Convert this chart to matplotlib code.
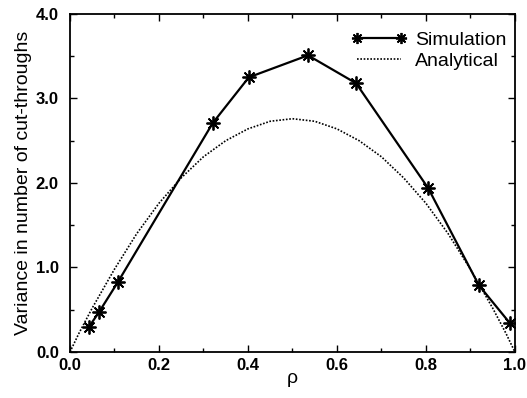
import matplotlib
matplotlib.use('Agg')
import matplotlib.pyplot as plt
from matplotlib.ticker import MultipleLocator, FormatStrFormatter

plt.rcParams['font.family'] = ['Liberation Sans', 'DejaVu Sans']

# Simulation points
sim_rho = [0.043, 0.065, 0.108, 0.321, 0.402, 0.535, 0.643, 0.805, 0.919, 0.989]
sim_var = [0.30, 0.47, 0.83, 2.71, 3.25, 3.51, 3.18, 1.94, 0.79, 0.34]

# Analytical curve
ana_rho = [0.0, 0.02, 0.05, 0.1, 0.15, 0.2, 0.25, 0.3, 0.35, 0.4, 0.45, 0.5,
           0.55, 0.6, 0.65, 0.7, 0.75, 0.8, 0.85, 0.9, 0.95, 0.98, 1.0]
ana_var = [0.0, 0.22, 0.52, 0.98, 1.40, 1.76, 2.06, 2.31, 2.50, 2.64, 2.73, 2.76,
           2.73, 2.64, 2.50, 2.31, 2.06, 1.76, 1.40, 0.98, 0.52, 0.22, 0.0]

fig = plt.figure(figsize=(5.27, 3.98), dpi=100)
ax = fig.add_axes([0.1328, 0.1156, 0.977 - 0.1328, 0.965 - 0.1156])

ax.plot(sim_rho, sim_var, color='black', lw=1.6, marker=(8, 2, 0),
        markersize=10, markeredgewidth=1.3, label='Simulation')
ax.plot(ana_rho, ana_var, color='black', lw=1.2, linestyle=(0, (1, 1)),
        label='Analytical')

ax.set_xlim(0, 1)
ax.set_ylim(0, 4)
ax.xaxis.set_major_locator(MultipleLocator(0.2))
ax.xaxis.set_minor_locator(MultipleLocator(0.1))
ax.yaxis.set_major_locator(MultipleLocator(1.0))
ax.yaxis.set_minor_locator(MultipleLocator(0.5))
ax.xaxis.set_major_formatter(FormatStrFormatter('%.1f'))
ax.yaxis.set_major_formatter(FormatStrFormatter('%.1f'))
ax.tick_params(which='both', direction='in', top=True, right=True,
               labelsize=12, width=1.0)
ax.tick_params(which='major', length=5, pad=4)
ax.tick_params(axis='y', which='major', pad=8)
ax.tick_params(which='minor', length=3)
for lab in ax.get_xticklabels() + ax.get_yticklabels():
    lab.set_fontweight('bold')
for sp in ax.spines.values():
    sp.set_linewidth(1.3)

ax.set_xlabel('ρ', fontsize=14, labelpad=-2)
ax.set_ylabel('Variance in number of cut-throughs', fontsize=14, labelpad=3)

leg = ax.legend(loc='upper right', bbox_to_anchor=(1.02, 1.0), frameon=False,
                fontsize=14, numpoints=2, handlelength=2.9, handletextpad=0.4,
                borderaxespad=0.5, labelspacing=0.15, markerscale=0.8)

fig.savefig('out.png', dpi=100)
